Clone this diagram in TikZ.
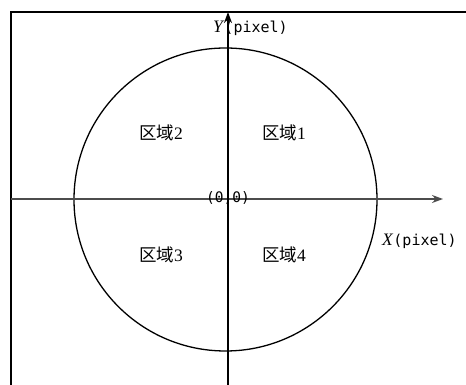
\documentclass[tikz,border=0pt]{standalone}
\usepackage{fontspec}
\setmainfont{Liberation Serif}
\newfontfamily\cjk{Noto Sans CJK SC}
\newfontfamily\monof{DejaVu Sans Mono}
\usetikzlibrary{arrows.meta}
\begin{document}
\begin{tikzpicture}[x=1pt,y=1pt,
  line/.style={line width=1.3pt,black},
  axisarrow/.style={line width=1.3pt,-{Stealth[length=11pt,width=8pt]}},
  region/.style={font=\fontsize{17.5}{17.5}\selectfont, inner sep=0pt},
  monotext/.style={font=\fontsize{14.5}{14.5}\selectfont\monof, inner sep=0pt},
  axlabel/.style={font=\fontsize{15}{15}\selectfont, inner sep=0pt, anchor=west}]
\useasboundingbox (0,0) rectangle (466,385);
% frame
\coordinate (fbl) at (11,0);
\coordinate (ftl) at (11,373);
\coordinate (ftr) at (466,373);
\draw[line] (fbl) -- (ftl) -- (ftr);
% circle
\coordinate (c) at (225.5,185.5);
\draw[line] (c) circle[radius=151.5];
% axes
\coordinate (ys) at (228,0);
\coordinate (ye) at (228,373);
\coordinate (xs) at (11,186);
\coordinate (xe) at (443,186);
\draw[axisarrow,black!70] (xs) -- (xe);
\draw[axisarrow] (ys) -- (ye);
% labels
\node[region] (r1) at (284,252) {{\cjk 区域}1};
\node[region] (r2) at (161,252) {{\cjk 区域}2};
\node[region] (r3) at (161,130) {{\cjk 区域}3};
\node[region] (r4) at (284,130) {{\cjk 区域}4};
\node[monotext] (o) at (228,187) {(0,0)};
\node[axlabel] (yl) at (213,357) {{\fontsize{17.5}{17.5}\selectfont\textit{Y}}\monof(pixel)};
\node[axlabel] (xl) at (382,144) {{\fontsize{17.5}{17.5}\selectfont\textit{X}}\monof(pixel)};
\end{tikzpicture}
\end{document}
